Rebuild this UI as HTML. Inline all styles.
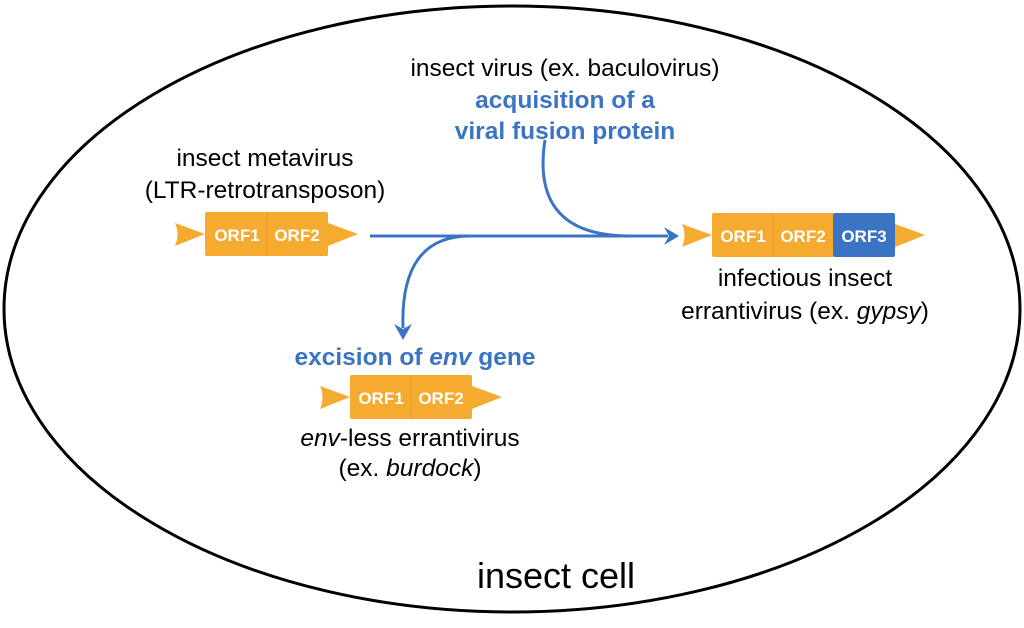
<!DOCTYPE html>
<html><head><style>
body{margin:0;width:1024px;height:623px;background:#fff;overflow:hidden}
svg text{font-family:"Liberation Sans",sans-serif}
</style></head><body>
<svg width="1024" height="623" viewBox="0 0 1024 623">
<ellipse cx="512" cy="309" rx="508" ry="303" fill="none" stroke="#000" stroke-width="3"/>
<g fill="#f5ab2f">
<path d="M175,223 L205,234 L175,246 Q180,234 175,223Z"/>
<rect x="205" y="212" width="123" height="44" rx="2"/>
<path d="M328,223 L358,234 L328,246Z"/>
<path d="M320,386 L350,397 L320,409 Q325,397 320,386Z"/>
<rect x="350" y="375" width="122" height="44" rx="2"/>
<path d="M472,386 L502,397 L472,409Z"/>
<path d="M682,224 L712,235 L682,247 Q687,235 682,224Z"/>
<rect x="712" y="213" width="122" height="44" rx="2"/>
<path d="M895,224 L925,235 L895,247Z"/>
</g>
<rect x="833" y="213" width="62" height="44" rx="2" fill="#3b74c3"/>
<g stroke="#e89d22" stroke-width="1"><line x1="267" y1="212" x2="267" y2="256"/><line x1="411" y1="375" x2="411" y2="419"/><line x1="773" y1="213" x2="773" y2="257"/></g>
<g fill="#fff" font-weight="bold" font-size="17" text-anchor="middle">
<text x="237" y="241">ORF1</text><text x="297" y="241">ORF2</text>
<text x="381" y="404">ORF1</text><text x="441" y="404">ORF2</text>
<text x="743" y="242">ORF1</text><text x="803" y="242">ORF2</text><text x="864" y="242">ORF3</text>
</g>
<g stroke="#3b74c3" stroke-width="3" fill="none">
<line x1="370" y1="236" x2="668" y2="236"/>
<path d="M545,140 Q530,236 630,236"/>
<path d="M470,236 Q400,236 403,328"/>
</g>
<g fill="#3b74c3">
<path d="M664,227 L679,236 L664,245 L669,236Z"/>
<path d="M394,324 L403,340 L412,324 L403,329Z"/>
</g>
<g font-size="24.5" text-anchor="middle" fill="#000">
<text x="565" y="76">insect virus (ex. baculovirus)</text>
<text x="265" y="166">insect metavirus</text>
<text x="265" y="198">(LTR-retrotransposon)</text>
<text x="805" y="286">infectious insect</text>
<text x="805" y="319">errantivirus (ex. <tspan font-style="italic">gypsy</tspan>)</text>
<text x="410" y="446"><tspan font-style="italic">env</tspan>-less errantivirus</text>
<text x="410" y="476">(ex. <tspan font-style="italic">burdock</tspan>)</text>
<text x="556" y="588" font-size="36">insect cell</text>
</g>
<g font-size="24.5" font-weight="bold" text-anchor="middle" fill="#3b74c3">
<text x="565" y="108">acquisition of a</text>
<text x="565" y="139">viral fusion protein</text>
<text x="415" y="365">excision of <tspan font-style="italic">env</tspan> gene</text>
</g>
</svg>
</body></html>
